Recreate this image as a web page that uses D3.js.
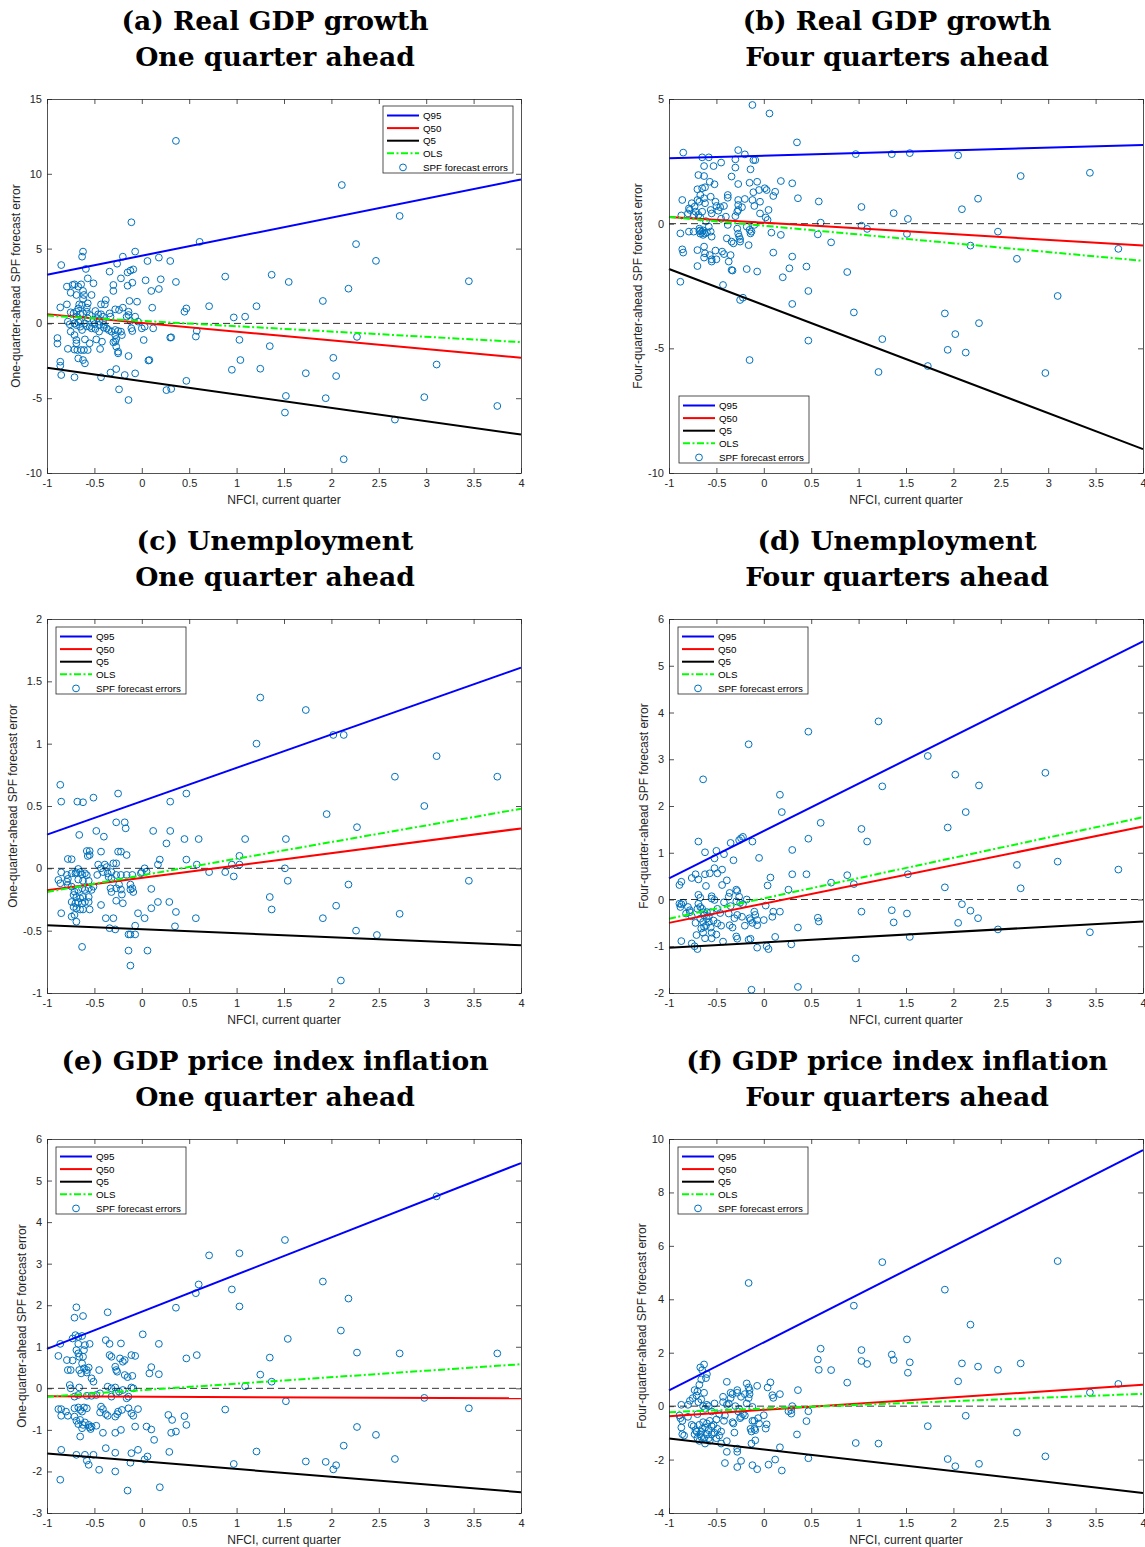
<!DOCTYPE html>
<html>
<head>
<meta charset="utf-8">
<script src="https://cdn.jsdelivr.net/npm/d3@7"></script>
<style>
  body { margin: 0; background: #fff; }
</style>
</head>
<body>
<svg id="fig" width="1145" height="1547"></svg>
<script>
'use strict';

// ---- data ----
var nfciTicks = [-1, -0.5, 0, 0.5, 1, 1.5, 2, 2.5, 3, 3.5, 4];
var lineNames = ['Q95', 'Q50', 'Q5', 'OLS'];
var pointName = 'SPF forecast errors';

var gdp1Ticks = [-10, -5, 0, 5, 10, 15];
var gdp4Ticks = [-10, -5, 0, 5];
var unemp1Ticks = [-1, -0.5, 0, 0.5, 1, 1.5, 2];
var unemp4Ticks = [-2, -1, 0, 1, 2, 3, 4, 5, 6];
var infl1Ticks = [-3, -2, -1, 0, 1, 2, 3, 4, 5, 6];
var infl4Ticks = [-4, -2, 0, 2, 4, 6, 8, 10];

// fitted lines, value at NFCI = -1 and NFCI = 4, order Q95, Q50, Q5, OLS
var gdp1Lines = [[3.25, 9.62], [0.62, -2.3], [-2.97, -7.43], [0.52, -1.25]];
var gdp4Lines = [[2.62, 3.16], [0.27, -0.88], [-1.82, -9.04], [0.27, -1.49]];
var unemp1Lines = [[0.27, 1.61], [-0.175, 0.32], [-0.456, -0.617], [-0.19, 0.478]];
var unemp4Lines = [[0.45, 5.52], [-0.5, 1.56], [-1.03, -0.47], [-0.41, 1.76]];
var infl1Lines = [[0.95, 5.42], [-0.19, -0.24], [-1.57, -2.5], [-0.2, 0.58]];
var infl4Lines = [[0.59, 9.58], [-0.375, 0.8], [-1.21, -3.25], [-0.225, 0.46]];

// [NFCI, forecast error]
var gdp1Errors = [
  [0.36,12.2],[2.11,9.25],[2.72,7.18],[0.61,5.45],[2.26,5.3],[2.47,4.18],[0.88,3.13],[1.37,3.25],[1.55,2.77],[0.36,2.77],
  [3.45,2.82],[2.18,2.32],[1.91,1.5],[0.71,1.15],[1.21,1.15],[0.47,1.0],[0.45,0.78],[0.97,0.4],[1.09,0.45],[2.27,-0.9],
  [0.3,-0.95],[0.57,-0.88],[0.58,-0.5],[1.03,-1.1],[1.04,-2.45],[0.95,-3.1],[1.25,-3.03],[1.35,-1.52],[1.73,-3.33],[2.02,-2.3],
  [2.05,-3.52],[3.11,-2.75],[0.07,-2.48],[0.47,-3.84],[0.26,-4.46],[0.31,-4.38],[1.52,-4.85],[1.51,-5.96],[1.94,-5.0],[2.98,-4.93],
  [3.75,-5.52],[2.67,-6.43],[2.13,-9.08],[0.3,4.17],[0.18,4.4],[0.06,4.17],[0.2,2.95],[0.18,2.3],[0.1,2.17],[0.04,2.88],
  [0.11,1.05],[0.12,-0.33],[0.03,-0.22],[0.0,-0.33],[0.02,-1.11],[0.31,-0.93],
  [-0.11,6.76],[-0.62,4.8],[-0.63,4.46],[-0.07,4.8],[-0.85,3.9],[-0.59,3.64],[-0.2,4.46],[-0.26,3.99],[-0.34,3.46],[-0.22,3.01],
  [-0.15,3.41],[-0.12,3.53],[-0.09,3.61],[-0.15,2.52],[-0.1,2.72],[-0.57,3.01],[-0.64,2.61],[-0.67,2.46],[-0.71,2.61],[-0.51,2.68],
  [-0.79,2.46],[-0.73,2.57],[-0.75,2.05],[-0.69,1.9],[-0.62,2.17],[-0.61,1.9],[-0.62,1.63],[-0.53,1.9],[-0.3,2.57],[-0.3,2.17],
  [-0.38,1.56],[-0.39,1.27],[-0.43,1.27],[-0.28,0.94],[-0.2,1.05],[-0.13,1.5],[-0.05,1.45],[-0.86,1.07],[-0.79,1.27],[-0.66,1.27],
  [-0.67,1.0],[-0.63,1.23],[-0.57,1.34],[-0.58,0.78],[-0.49,0.83],[-0.58,1.05],[-0.69,0.78],[-0.72,0.67],[-0.75,0.74],[-0.62,0.67],
  [-0.65,0.61],[-0.69,0.45],[-0.46,0.61],[-0.43,0.61],[-0.41,0.45],[-0.34,0.67],[-0.33,0.45],[-0.14,0.78],[-0.14,0.56],[-0.07,0.45],
  [-0.16,0.45],[-0.89,-0.98],[-0.89,-1.35],[-0.78,0.12],[-0.76,-0.06],[-0.71,0.0],[-0.67,0.07],[-0.65,0.12],[-0.69,-0.11],[-0.65,-0.22],
  [-0.63,-0.44],[-0.75,-0.55],[-0.71,-0.78],[-0.69,-1.11],[-0.69,-1.33],[-0.78,-1.7],[-0.71,-1.75],[-0.68,-1.78],[-0.64,-1.78],[-0.61,-1.78],
  [-0.57,-1.78],[-0.67,-2.34],[-0.62,-2.45],[-0.6,-2.67],[-0.86,-2.56],[-0.86,-2.83],[-0.85,-3.45],[-0.71,-3.6],[-0.43,-3.6],[-0.33,-3.29],
  [-0.27,-3.05],[-0.18,-3.45],[-0.07,-3.34],[-0.24,-4.41],[-0.14,-5.12],[-0.44,-1.71],[-0.42,-1.22],[-0.55,-1.33],[-0.6,-1.07],[-0.48,-1.07],
  [-0.55,-0.22],[-0.53,-0.33],[-0.45,-0.1],[-0.4,-0.1],[-0.37,-0.33],[-0.35,-0.44],[-0.32,-0.55],[-0.28,-0.44],[-0.25,-0.51],[-0.28,-0.78],
  [-0.27,-1.04],[-0.28,-1.22],[-0.27,-1.55],[-0.25,-1.89],[-0.25,-2.0],[-0.22,-0.55],[-0.21,-0.78],[-0.11,-0.33],[-0.1,-0.51],[-0.14,-2.18],
  [0.08,-2.45],[-0.3,-1.26],[-0.04,0.12],[-0.12,0.16],[-0.45,0.12],[-0.41,0.16],[-0.57,0.34],[-0.51,0.23],[-0.49,-0.37],[-0.45,-0.55],
  [-0.4,-0.29],[-0.6,0.0],[-0.58,-0.2],[-0.24,0.9],[-0.55,0.56],[-0.5,-0.05],[-0.47,0.35]
];

var gdp4Errors = [
  [0.97,2.79],[1.35,2.79],[1.54,2.83],[2.05,2.74],[2.71,1.91],[3.44,2.04],[2.26,1.0],[0.58,0.89],[1.03,0.67],[2.09,0.58],
  [1.37,0.42],[1.52,0.19],[0.6,0.04],[1.03,-0.08],[1.09,-0.21],[0.57,-0.43],[1.51,-0.41],[2.47,-0.32],[0.71,-0.75],[2.18,-0.88],
  [3.74,-1.01],[2.67,-1.41],[0.88,-1.94],[0.45,-1.72],[0.47,-2.7],[3.1,-2.9],[0.95,-3.56],[1.91,-3.6],[2.27,-3.99],[2.02,-4.43],
  [0.47,-4.69],[1.25,-4.63],[1.94,-5.06],[2.13,-5.17],[1.73,-5.71],[1.21,-5.95],[2.97,-5.99],[0.36,1.02],
  [-0.12,4.76],[0.06,4.42],[0.35,3.26],[-0.85,2.85],[-0.27,2.95],[-0.2,2.78],[-0.65,2.66],[-0.58,2.66],[-0.45,2.45],[-0.3,2.58],
  [-0.11,2.55],[-0.09,2.55],[-0.63,2.31],[-0.53,2.31],[-0.3,2.25],[-0.14,2.18],[-0.69,1.95],[-0.63,1.91],[-0.57,1.68],[-0.34,1.89],
  [-0.52,1.58],[-0.27,1.59],[-0.15,1.64],[-0.07,1.68],[0.18,1.71],[0.3,1.62],[-0.7,1.38],[-0.65,1.42],[-0.62,1.46],[-0.67,1.15],
  [-0.56,1.08],[-0.38,1.15],[-0.38,1.04],[-0.11,1.26],[-0.05,1.35],[0.01,1.42],[0.03,1.35],[0.12,1.28],[0.1,1.11],[-0.86,0.95],
  [-0.76,0.82],[-0.73,0.68],[-0.7,0.95],[-0.68,0.88],[-0.63,1.02],[-0.62,0.82],[-0.51,0.88],[-0.5,0.71],[-0.42,0.71],[-0.46,0.66],
  [-0.27,0.95],[-0.2,0.99],[-0.27,0.75],[-0.27,0.55],[-0.28,0.48],[-0.23,0.66],[-0.12,0.95],[-0.1,0.71],[-0.04,0.88],[-0.04,0.41],
  [0.05,0.55],[0.02,0.25],[-0.79,0.61],[-0.78,0.55],[-0.8,0.41],[-0.72,0.48],[-0.74,0.35],[-0.65,0.48],[-0.69,0.35],[-0.67,0.25],
  [-0.56,0.55],[-0.55,0.41],[-0.48,0.52],[-0.4,0.28],[-0.87,0.33],[-0.88,-0.39],[-0.79,-0.32],[-0.74,-0.32],[-0.68,-0.2],[-0.67,-0.27],
  [-0.67,-0.4],[-0.65,-0.33],[-0.64,-0.27],[-0.68,-0.3],[-0.62,-0.4],[-0.64,-0.45],[-0.58,-0.12],[-0.56,-0.32],[-0.55,-0.52],[-0.38,-0.05],
  [-0.39,-0.59],[-0.28,-0.2],[-0.27,-0.4],[-0.26,-0.52],[-0.25,-0.62],[-0.18,-0.12],[-0.15,-0.25],[-0.14,-0.39],[-0.13,-0.32],[-0.16,-0.86],
  [0.08,-0.36],[0.18,-0.45],[-0.25,-0.72],[-0.32,-0.79],[-0.34,-0.72],[-0.86,-1.03],[-0.85,-1.16],[-0.7,-1.06],[-0.63,-0.92],[-0.62,-1.19],
  [-0.57,-1.26],[-0.63,-1.36],[-0.55,-1.43],[-0.55,-1.52],[-0.51,-1.08],[-0.5,-1.43],[-0.44,-1.12],[-0.42,-1.22],[-0.35,-1.26],[-0.37,-1.52],
  [0.1,-1.16],[-0.7,-1.7],[-0.34,-1.86],[-0.33,-1.88],[-0.18,-1.82],[-0.07,-1.92],[0.3,-1.32],[0.27,-1.79],[0.2,-2.15],[-0.88,-2.33],
  [-0.43,-2.46],[-0.25,-3.06],[-0.22,-2.97],[0.3,-3.22],[-0.15,-5.47],[-0.6,-0.35],[-0.61,0.1],[-0.45,0.2],[-0.3,0.3],[-0.1,-0.05],
  [0.04,0.15]
];

var unemp1Errors = [
  [1.25,1.37],[1.73,1.27],[1.21,1.0],[2.02,1.07],[2.13,1.07],[3.11,0.9],[2.67,0.735],[3.75,0.735],[2.98,0.5],[1.95,0.435],
  [2.27,0.33],[0.47,0.6],[0.3,0.535],[0.12,0.3],[0.3,0.3],[0.26,0.2],[0.45,0.235],[0.6,0.235],[1.09,0.235],[1.52,0.235],
  [1.03,0.1],[0.47,0.07],[0.19,0.07],[0.17,0.03],[0.58,0.03],[0.95,0.03],[1.03,0.03],[1.51,0.0],[0.71,-0.03],[0.88,-0.03],
  [0.97,-0.065],[1.54,-0.1],[3.45,-0.1],[2.18,-0.13],[1.35,-0.23],[1.37,-0.33],[2.05,-0.3],[2.72,-0.365],[1.91,-0.4],[2.26,-0.5],
  [2.48,-0.535],[2.1,-0.9],[0.57,-0.4],[0.36,-0.35],[0.35,-0.465],[0.29,-0.27],[0.17,-0.27],[0.1,-0.165],[0.1,-0.32],[0.06,-0.66],
  [0.03,-0.4],
  [-0.86,0.67],[-0.85,0.535],[-0.68,0.535],[-0.62,0.53],[-0.51,0.567],[-0.25,0.6],[-0.66,0.268],[-0.48,0.3],[-0.4,0.254],[-0.27,0.369],
  [-0.18,0.369],[-0.17,0.321],[-0.58,0.139],[-0.55,0.139],[-0.57,0.099],[-0.55,0.107],[-0.43,0.134],[-0.25,0.134],[-0.22,0.134],[-0.16,0.107],
  [-0.78,0.075],[-0.74,0.073],[-0.67,-0.005],[-0.69,-0.032],[-0.74,-0.04],[-0.85,-0.032],[-0.88,-0.093],[-0.86,-0.12],[-0.79,-0.053],[-0.78,-0.085],
  [-0.7,-0.04],[-0.65,-0.03],[-0.63,-0.05],[-0.6,-0.04],[-0.58,-0.055],[-0.67,-0.09],[-0.62,-0.1],[-0.56,-0.1],[-0.46,0.03],[-0.39,0.03],
  [-0.37,0.01],[-0.3,0.04],[-0.27,0.04],[-0.43,0.0],[-0.41,-0.03],[-0.36,-0.04],[-0.32,-0.03],[-0.47,-0.053],[-0.27,-0.053],[-0.22,-0.053],
  [-0.16,-0.053],[-0.1,-0.053],[-0.35,-0.07],[-0.32,-0.08],[0.03,0.0],[0.05,-0.026],[0.0,-0.03],[-0.01,-0.04],[-0.79,-0.107],[-0.78,-0.133],
  [-0.74,-0.147],[-0.71,-0.187],[-0.72,-0.214],[-0.67,-0.173],[-0.63,-0.16],[-0.6,-0.173],[-0.56,-0.16],[-0.53,-0.173],[-0.51,-0.147],[-0.69,-0.23],
  [-0.65,-0.24],[-0.62,-0.23],[-0.56,-0.23],[-0.74,-0.27],[-0.7,-0.28],[-0.67,-0.27],[-0.63,-0.28],[-0.6,-0.27],[-0.56,-0.27],[-0.72,-0.31],
  [-0.69,-0.32],[-0.65,-0.33],[-0.62,-0.33],[-0.55,-0.33],[-0.85,-0.36],[-0.74,-0.387],[-0.71,-0.374],[-0.69,-0.428],[-0.43,-0.294],[-0.38,-0.4],
  [-0.3,-0.4],[-0.33,-0.16],[-0.32,-0.19],[-0.27,-0.16],[-0.24,-0.13],[-0.22,-0.17],[-0.21,-0.21],[-0.12,-0.13],[-0.1,-0.16],[-0.12,-0.17],
  [-0.09,-0.19],[-0.34,-0.48],[-0.28,-0.49],[-0.27,-0.26],[-0.2,-0.28],[-0.04,-0.36],[-0.14,-0.53],[-0.12,-0.53],[-0.07,-0.53],[-0.07,-0.46],
  [-0.14,-0.66],[-0.12,-0.78],[-0.63,-0.63]
];

var unemp4Errors = [
  [1.21,3.81],[0.47,3.59],[-0.16,3.32],[1.73,3.07],[2.97,2.71],[2.02,2.67],[-0.64,2.57],[2.27,2.44],[1.25,2.42],[0.17,2.24],
  [0.19,1.87],[2.13,1.87],[0.6,1.64],[1.94,1.54],[1.03,1.51],[1.09,1.24],[0.47,1.3],[0.3,1.06],[3.1,0.81],[2.67,0.74],
  [3.74,0.64],[1.52,0.54],[0.45,0.54],[0.88,0.52],[0.3,0.54],[0.71,0.36],[0.95,0.33],[1.91,0.26],[2.71,0.24],[0.26,0.21],
  [2.09,-0.1],[2.18,-0.24],[1.35,-0.23],[1.03,-0.26],[1.51,-0.3],[2.26,-0.4],[2.05,-0.5],[1.37,-0.49],[0.57,-0.39],[0.58,-0.47],
  [2.47,-0.64],[3.44,-0.7],[1.54,-0.8],[0.36,-0.6],[0.97,-1.26],[0.29,-0.96],[0.36,-1.87],[-0.13,-1.93],[0.12,-0.8],[0.05,-1.06],
  [0.03,-1.0],[-0.07,-1.03],[0.09,-0.37],[0.1,-0.26],[0.17,-0.26],[0.07,0.47],[0.04,0.3],[-0.05,0.89],[-0.12,1.24],[-0.35,1.21],
  [-0.26,1.27],[-0.24,1.31],[-0.22,1.34],[-0.32,0.84],[-0.42,0.97],[-0.5,1.04],[-0.52,0.88],[-0.62,1.01],[-0.69,1.24],[-0.39,0.41],
  [-0.44,0.31],[-0.44,0.64],[-0.52,0.67],[-0.49,0.56],[-0.62,0.54],[-0.57,0.56],[-0.61,0.29],[-0.69,0.43],[-0.76,0.46],[-0.72,0.54],
  [-0.87,0.38],[-0.89,0.31],
  [-0.69,0.1],[-0.67,0.04],[-0.55,0.07],[-0.55,0.02],[-0.52,-0.01],[-0.37,0.06],[-0.36,0.14],[-0.29,0.21],[-0.28,0.18],[-0.26,0.06],
  [-0.18,0.0],[-0.29,-0.04],[-0.25,-0.07],[-0.22,-0.1],[-0.35,-0.14],[-0.37,-0.3],[-0.89,-0.09],[-0.87,-0.1],[-0.85,-0.07],[-0.88,-0.16],
  [-0.8,-0.16],[-0.78,-0.23],[-0.82,-0.3],[-0.76,-0.36],[-0.69,-0.09],[-0.67,-0.16],[-0.65,-0.2],[-0.64,-0.27],[-0.63,-0.34],[-0.67,-0.41],
  [-0.64,-0.48],[-0.6,-0.27],[-0.6,-0.41],[-0.58,-0.48],[-0.61,-0.56],[-0.63,-0.59],[-0.56,-0.27],[-0.49,-0.2],[-0.49,-0.51],[-0.46,-0.29],
  [-0.45,-0.56],[-0.87,-0.89],[-0.76,-0.94],[-0.73,-1.0],[-0.7,-1.06],[-0.71,-0.76],[-0.64,-0.71],[-0.62,-0.83],[-0.55,-0.83],[-0.56,-0.6],
  [-0.55,-0.71],[-0.43,-0.9],[-0.36,-0.55],[-0.33,-0.6],[-0.29,-0.79],[-0.28,-0.84],[-0.16,-0.86],[-0.14,-0.84],[-0.23,-0.37],[-0.14,-0.44],
  [-0.12,-0.5],[-0.1,-0.26],[-0.09,-0.33],[-0.07,-0.55],[-0.07,-0.44],[0.0,-0.44],[0.02,-0.13],[-0.15,-0.4],[-0.2,-0.56],[-0.31,-0.4],
  [-0.28,-0.33],[-0.42,-0.06],[-0.78,-0.27],[-0.7,-0.2],[-0.66,-0.62],[-0.58,-0.36],[-0.53,-0.45],[-0.5,-0.75],[-0.72,-0.5]
];

var infl1Errors = [
  [3.11,4.62],[1.51,3.57],[0.71,3.2],[1.03,3.25],[1.91,2.57],[0.6,2.5],[0.57,2.29],[0.95,2.38],[2.18,2.16],[1.03,1.97],
  [0.36,1.94],[2.1,1.39],[1.54,1.19],[2.27,0.86],[2.72,0.84],[3.75,0.84],[0.47,0.72],[0.58,0.8],[1.35,0.74],[1.25,0.33],
  [1.37,0.16],[1.09,0.05],[2.98,-0.23],[1.52,-0.31],[3.45,-0.48],[0.88,-0.51],[0.45,-0.67],[0.47,-0.88],[2.27,-0.93],[2.47,-1.12],
  [2.13,-1.38],[1.21,-1.52],[0.97,-1.82],[1.73,-1.76],[1.94,-1.77],[2.02,-1.95],[2.05,-1.85],[2.67,-1.7],[0.29,-1.53],[0.19,-2.38],
  [-0.69,1.95],[-0.71,1.7],[-0.62,1.74],[-0.36,1.83],[-0.7,1.28],[-0.67,1.24],[-0.63,1.26],[-0.73,1.2],[-0.86,1.07],[-0.67,1.07],
  [-0.6,1.04],[-0.55,1.07],[-0.38,1.16],[-0.34,1.07],[-0.22,1.08],[0.01,1.3],[0.18,1.07],[-0.69,0.92],[-0.67,0.84],[-0.66,0.76],
  [-0.61,0.92],[-0.62,0.76],[-0.88,0.78],[-0.79,0.68],[-0.73,0.67],[-0.63,0.6],[-0.61,0.48],[-0.58,0.44],[-0.34,0.8],[-0.32,0.76],
  [-0.23,0.72],[-0.2,0.64],[-0.18,0.68],[-0.11,0.8],[-0.07,0.78],[-0.28,0.52],[-0.27,0.44],[-0.26,0.4],[-0.78,0.44],[-0.75,0.44],
  [-0.66,0.44],[-0.64,0.36],[-0.56,0.5],[-0.58,0.38],[-0.45,0.44],[-0.18,0.32],[-0.15,0.27],[-0.1,0.3],[0.1,0.51],[0.08,0.36],
  [0.18,0.34],[-0.51,0.16],[-0.53,0.24],[-0.76,0.08],[-0.75,0.0],[-0.66,0.02],[-0.36,0.04],[-0.32,0.0],[-0.28,0.02],[-0.2,-0.04],
  [-0.11,0.02],[-0.09,0.0],[-0.67,-0.16],[-0.71,-0.2],[-0.58,-0.18],[-0.53,-0.18],[-0.48,-0.16],[-0.44,-0.12],[-0.32,-0.2],[-0.27,-0.12],
  [-0.24,-0.08],[-0.16,-0.24],[-0.14,-0.2],[-0.88,-0.5],[-0.85,-0.5],[-0.85,-0.66],[-0.78,-0.66],[-0.8,-0.56],[-0.71,-0.48],[-0.67,-0.46],
  [-0.65,-0.52],[-0.63,-0.56],[-0.61,-0.46],[-0.58,-0.48],[-0.71,-0.68],[-0.69,-0.78],[-0.67,-0.86],[-0.65,-0.76],[-0.62,-0.88],[-0.6,-0.82],
  [-0.63,-0.96],[-0.56,-0.88],[-0.53,-0.92],[-0.48,-0.9],[-0.43,-0.44],[-0.41,-0.5],[-0.44,-0.58],[-0.38,-0.62],[-0.36,-0.66],[-0.28,-0.68],
  [-0.26,-0.62],[-0.25,-0.56],[-0.21,-0.52],[-0.14,-0.48],[-0.11,-0.6],[-0.09,-0.66],[-0.04,-0.5],[-0.65,-1.16],[-0.55,-0.94],[-0.54,-0.98],
  [-0.41,-1.07],[-0.28,-1.07],[-0.22,-1.0],[-0.07,-0.92],[0.05,-0.92],[0.1,-0.99],[0.13,-1.24],[0.28,-0.64],[0.32,-0.76],[0.31,-1.07],
  [0.36,-1.04],[-0.85,-1.48],[-0.69,-1.6],[-0.6,-1.6],[-0.51,-1.6],[-0.58,-1.74],[-0.56,-1.84],[-0.38,-1.44],[-0.28,-1.55],[-0.11,-1.56],
  [-0.12,-1.79],[-0.04,-1.48],[0.03,-1.71],[0.06,-1.64],[-0.45,-1.96],[-0.28,-2.0],[-0.86,-2.2],[-0.15,-2.46]
];

var infl4Errors = [
  [1.25,5.39],[3.1,5.43],[-0.16,4.61],[1.91,4.36],[0.95,3.76],[2.18,3.05],[1.51,2.5],[0.6,2.15],[1.03,2.1],[1.35,1.93],
  [0.57,1.74],[1.03,1.69],[1.37,1.73],[1.54,1.64],[2.09,1.6],[2.71,1.6],[1.09,1.58],[2.26,1.48],[0.58,1.36],[0.71,1.35],
  [2.47,1.36],[1.52,1.25],[0.88,0.88],[2.05,0.93],[3.74,0.83],[3.44,0.51],[0.36,0.6],[1.73,-0.75],[2.13,-0.36],[2.67,-0.99],
  [0.97,-1.38],[1.21,-1.4],[2.97,-1.88],[1.94,-1.98],[2.27,-2.16],[2.02,-2.25],[0.47,-1.95],[0.45,-0.56],[0.47,-0.19],[0.35,-1.06],
  [0.3,0.0],[0.29,-0.15],[0.29,-0.28],[0.26,-0.19],[0.17,0.45],[0.19,-2.41],[0.17,-1.54],[0.12,-2.0],[0.05,-2.19],[0.07,0.89],
  [0.04,0.7],[0.09,0.41],[0.1,0.31],[0.02,-0.84],[0.03,-0.68],[0.0,-0.34],[-0.07,0.76],[-0.12,-0.03],[-0.09,-1.28],[-0.12,-2.21],
  [-0.07,-2.36],[-0.13,-1.4],[-0.28,-2.28],[-0.28,-1.59],[-0.28,-1.71],[-0.24,-2.05],[-0.31,-0.99],[-0.41,-2.13],[-0.39,-1.71],[-0.39,-1.31],
  [-0.39,0.91],
  [-0.18,0.85],[-0.16,0.7],[-0.15,0.6],[-0.15,0.45],[-0.16,0.3],[-0.2,0.45],[-0.24,0.35],[-0.28,0.6],[-0.28,0.5],[-0.33,0.45],
  [-0.35,0.5],[-0.43,0.35],[-0.43,0.15],[-0.37,0.1],[-0.3,0.0],[-0.26,-0.1],[-0.22,-0.3],[-0.25,-0.45],[-0.2,-0.35],[-0.12,-0.55],
  [-0.1,-0.85],[-0.13,-0.95],[-0.09,-0.9],[-0.06,-0.45],[-0.05,-0.65],[-0.33,-0.6],[-0.32,-0.65],[-0.42,-0.55],[-0.45,-0.95],[-0.47,-1.1],
  [-0.5,-1.2],[-0.52,-1.0],[-0.55,-0.75],[-0.58,-0.9],[-0.6,-1.05],[-0.62,-0.8],[-0.63,-1.2],[-0.65,-0.85],[-0.66,-0.95],[-0.67,-1.05],
  [-0.68,-0.7],[-0.7,-1.2],[-0.72,-0.9],[-0.74,-0.75],[-0.62,-1.4],[-0.57,-1.3],[-0.55,-1.05],[-0.49,-0.85],[-0.45,-1.4],[-0.65,1.35],
  [-0.67,1.45],[-0.63,1.56],[-0.6,1.2],[-0.61,1.05],[-0.66,1.0],[-0.68,0.8],[-0.7,0.55],[-0.71,0.4],[-0.75,0.3],[-0.78,0.2],
  [-0.8,0.05],[-0.73,0.6],[-0.66,0.25],[-0.63,0.5],[-0.6,0.05],[-0.58,0.0],[-0.55,-0.2],[-0.52,0.1],[-0.62,-0.1],[-0.87,0.05],
  [-0.88,-0.45],[-0.89,-0.35],[-0.86,-0.55],[-0.87,-0.8],[-0.86,-1.05],[-0.84,-1.1],[-0.8,-0.4],[-0.76,-0.7],[-0.73,-1.05],[-0.7,-0.3],
  [-0.69,0.15],[-0.64,0.0],[-0.57,-0.55],[-0.5,-0.5],[-0.47,-0.3],[-0.41,-0.35],[-0.39,0.05],[-0.35,0.3],[-0.27,-0.2],[-0.24,-0.4],
  [-0.18,0.1],[-0.1,-0.55],[-0.14,-0.85],[-0.64,-0.6],[-0.68,-1.3],[-0.6,-0.65],[-0.53,-0.7],[-0.71,-0.95],[-0.66,-1.15],[-0.58,-1.2]
];

var yLabelOne = 'One-quarter-ahead SPF forecast error';
var yLabelFour = 'Four-quarter-ahead SPF forecast error';
var xLabel = 'NFCI, current quarter';

// ---- layout ----
var W = 474, H = 374;
var colX = [47, 669];
var rowY = [99, 619, 1139];
var lineColors = ['#0000ff', '#ff0000', '#000000', '#00ff00'];
var sansFont = '"Liberation Sans", Arial, Helvetica, sans-serif';
var serifFont = '"DejaVu Serif", "Liberation Serif", serif';
var axisColor = '#262626';

var panels = [
	{col: 0, row: 0, title: ['(a) Real GDP growth', 'One quarter ahead'], ylabel: yLabelOne, yDomain: [-10, 15], yTicks: gdp1Ticks, lines: gdp1Lines, points: gdp1Errors, legend: 'tr'},
	{col: 1, row: 0, title: ['(b) Real GDP growth', 'Four quarters ahead'], ylabel: yLabelFour, yDomain: [-10, 5], yTicks: gdp4Ticks, lines: gdp4Lines, points: gdp4Errors, legend: 'bl'},
	{col: 0, row: 1, title: ['(c) Unemployment', 'One quarter ahead'], ylabel: yLabelOne, yDomain: [-1, 2], yTicks: unemp1Ticks, lines: unemp1Lines, points: unemp1Errors, legend: 'tl'},
	{col: 1, row: 1, title: ['(d) Unemployment', 'Four quarters ahead'], ylabel: yLabelFour, yDomain: [-2, 6], yTicks: unemp4Ticks, lines: unemp4Lines, points: unemp4Errors, legend: 'tl'},
	{col: 0, row: 2, title: ['(e) GDP price index inflation', 'One quarter ahead'], ylabel: yLabelOne, yDomain: [-3, 6], yTicks: infl1Ticks, lines: infl1Lines, points: infl1Errors, legend: 'tl'},
	{col: 1, row: 2, title: ['(f) GDP price index inflation', 'Four quarters ahead'], ylabel: yLabelFour, yDomain: [-4, 10], yTicks: infl4Ticks, lines: infl4Lines, points: infl4Errors, legend: 'tl'}
];

var svg = d3.select('#fig');

function styleAxis(sel) {
	sel.attr('font-family', sansFont).attr('font-size', 11);
	sel.selectAll('.domain').attr('stroke', axisColor).attr('stroke-width', 0.8);
	sel.selectAll('.tick line').attr('stroke', axisColor).attr('stroke-width', 0.8);
	sel.selectAll('.tick text').attr('fill', axisColor);
}

function drawLegend(g, lx, ly) {
	var lw = 130, lh = 67, step = 12.6;
	var lg = g.append('g').attr('transform', 'translate(' + lx + ',' + ly + ')');
	lg.append('rect').attr('width', lw).attr('height', lh)
		.attr('fill', '#fff').attr('stroke', axisColor).attr('stroke-width', 0.8);
	lineNames.forEach(function(name, i) {
		var yy = 9.5 + i * step;
		lg.append('line').attr('x1', 4).attr('x2', 36).attr('y1', yy).attr('y2', yy)
			.attr('stroke', lineColors[i]).attr('stroke-width', 2)
			.attr('stroke-dasharray', name === 'OLS' ? '7,2.5,2,2.5' : null);
		lg.append('text').attr('x', 40).attr('y', yy).attr('dy', '0.35em')
			.attr('font-family', sansFont).attr('font-size', 9.8).attr('fill', '#000').text(name);
	});
	var yc = 9.5 + 4 * step + 1.5;
	lg.append('circle').attr('cx', 20).attr('cy', yc).attr('r', 3.4)
		.attr('fill', 'none').attr('stroke', '#0072BD').attr('stroke-width', 1);
	lg.append('text').attr('x', 40).attr('y', yc).attr('dy', '0.35em')
		.attr('font-family', sansFont).attr('font-size', 9.8).attr('fill', '#000').text(pointName);
}

function drawPanel(p) {
	var x0 = colX[p.col], y0 = rowY[p.row];
	var x = d3.scaleLinear().domain([-1, 4]).range([x0, x0 + W]);
	var y = d3.scaleLinear().domain(p.yDomain).range([y0 + H, y0]);
	var g = svg.append('g');

	// titles
	p.title.forEach(function(t, i) {
		g.append('text').attr('x', x0 + 228).attr('y', y0 - 69 + i * 36)
			.attr('text-anchor', 'middle').attr('font-family', serifFont)
			.attr('font-weight', 'bold').attr('font-size', 26.6).attr('fill', '#000').text(t);
	});

	// scatter
	g.append('g').selectAll('circle').data(p.points).join('circle')
		.attr('cx', function(d) { return x(d[0]); })
		.attr('cy', function(d) { return y(d[1]); })
		.attr('r', 3.4).attr('fill', 'none')
		.attr('stroke', '#0072BD').attr('stroke-width', 1);

	// zero line
	g.append('line').attr('x1', x(-1)).attr('x2', x(4)).attr('y1', y(0)).attr('y2', y(0))
		.attr('stroke', '#000').attr('stroke-width', 0.8).attr('stroke-dasharray', '7,4');

	// quantile and OLS lines
	lineNames.forEach(function(name, i) {
		g.append('line')
			.attr('x1', x(-1)).attr('y1', y(p.lines[i][0]))
			.attr('x2', x(4)).attr('y2', y(p.lines[i][1]))
			.attr('stroke', lineColors[i]).attr('stroke-width', 2)
			.attr('stroke-dasharray', name === 'OLS' ? '7,2.5,2,2.5' : null);
	});

	// axes, ticks inward on all four sides
	g.append('g').attr('transform', 'translate(0,' + (y0 + H) + ')')
		.call(d3.axisBottom(x).tickValues(nfciTicks).tickFormat(function(d) { return String(d); })
			.tickSizeInner(-5).tickSizeOuter(0).tickPadding(6))
		.call(styleAxis);
	g.append('g').attr('transform', 'translate(0,' + y0 + ')')
		.call(d3.axisTop(x).tickValues(nfciTicks).tickFormat('').tickSizeInner(-5).tickSizeOuter(0))
		.call(styleAxis);
	var left = g.append('g').attr('transform', 'translate(' + x0 + ',0)')
		.call(d3.axisLeft(y).tickValues(p.yTicks).tickFormat(function(d) { return String(d); })
			.tickSizeInner(-5).tickSizeOuter(0).tickPadding(5))
		.call(styleAxis);
	g.append('g').attr('transform', 'translate(' + (x0 + W) + ',0)')
		.call(d3.axisRight(y).tickValues(p.yTicks).tickFormat('').tickSizeInner(-5).tickSizeOuter(0))
		.call(styleAxis);

	// axis labels
	g.append('text').attr('x', x0 + W / 2).attr('y', y0 + H + 31)
		.attr('text-anchor', 'middle').attr('font-family', sansFont).attr('font-size', 12)
		.attr('fill', axisColor).text(xLabel);
	var bb = left.node().getBBox();
	var lxPos = x0 + bb.x - 10;
	g.append('text').attr('transform', 'translate(' + lxPos + ',' + (y0 + H / 2) + ') rotate(-90)')
		.attr('text-anchor', 'middle').attr('dy', '0.35em').attr('font-family', sansFont).attr('font-size', 12)
		.attr('fill', axisColor).text(p.ylabel);

	// legend
	var lx, ly;
	if (p.legend === 'tr') { lx = x0 + W - 8 - 130; ly = y0 + 7; }
	else if (p.legend === 'bl') { lx = x0 + 10; ly = y0 + H - 10 - 67; }
	else { lx = x0 + 9; ly = y0 + 8; }
	drawLegend(g, lx, ly);
}

panels.forEach(drawPanel);
</script>
</body>
</html>
